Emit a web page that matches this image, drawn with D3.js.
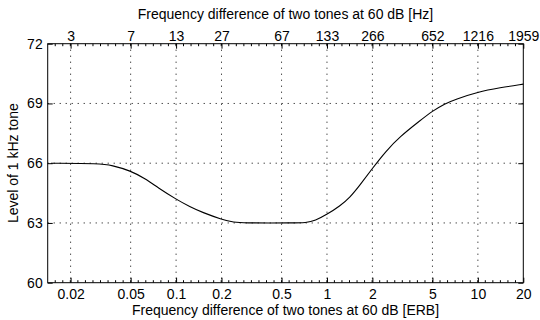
<!DOCTYPE html>
<html>
<head>
<meta charset="utf-8">
<script src="https://cdn.jsdelivr.net/npm/d3@7"></script>
<style>
html,body{margin:0;padding:0;background:#fff;}
svg{display:block;}
text{font-family:"Liberation Sans",Arial,Helvetica,sans-serif;fill:#000;}
</style>
</head>
<body>
<script>
// ---- data ----
const erbTicks = [0.02, 0.05, 0.1, 0.2, 0.5, 1, 2, 5, 10, 20];
const erbLabels = ["0.02", "0.05", "0.1", "0.2", "0.5", "1", "2", "5", "10", "20"];
const hzLabels = ["3", "7", "13", "27", "67", "133", "266", "652", "1216", "1959"];
const levelTicks = [60, 63, 66, 69, 72];
const erbValues = [0.0148, 0.0313, 0.0374, 0.05, 0.0622, 0.0762, 0.1, 0.1236, 0.1492, 0.2, 0.2393, 0.2937, 0.419, 0.5685, 0.7335, 0.8327, 1.0, 1.219, 1.42, 1.654, 2.0, 2.46, 3.04, 4.13, 5.0, 6.05, 7.05, 10, 14.0, 20];
const levelValues = [66.0, 65.98, 65.9, 65.62, 65.23, 64.76, 64.19, 63.81, 63.53, 63.18, 63.03, 63.0, 63.0, 63.0, 63.01, 63.11, 63.43, 63.85, 64.28, 64.9, 65.74, 66.61, 67.33, 68.13, 68.62, 68.99, 69.2, 69.58, 69.79, 69.97];
const xDomain = [0.0141, 20];
const yDomain = [60, 72];
const xTitleTop = "Frequency difference of two tones at 60 dB [Hz]";
const xTitleBottom = "Frequency difference of two tones at 60 dB [ERB]";
const yTitle = "Level of 1 kHz tone";

// ---- layout ----
const W = 540, H = 320;
const L = 47.7, R = 523.3, T = 43.7, B = 282.7;

const svg = d3.select("body").append("svg").attr("width", W).attr("height", H);

const x = d3.scaleLog().domain(xDomain).range([L, R]);
const y = d3.scaleLinear().domain(yDomain).range([B, T]);

// grid
const grid = svg.append("g").attr("stroke", "#000").attr("stroke-width", 1)
  .attr("stroke-dasharray", "1,5").attr("fill", "none");
grid.selectAll("line.v").data(erbTicks.filter(d => d < xDomain[1])).join("line")
  .attr("class", "v")
  .attr("x1", d => x(d)).attr("x2", d => x(d)).attr("y1", T).attr("y2", B);
grid.selectAll("line.h").data(levelTicks.filter(d => d > yDomain[0] && d < yDomain[1])).join("line")
  .attr("class", "h")
  .attr("x1", L).attr("x2", R).attr("y1", d => y(d)).attr("y2", d => y(d));

// minor ticks (every 0.05 decade)
const lo = Math.log10(xDomain[0]), hi = Math.log10(xDomain[1]);
const minor = [];
for (let v = lo + 0.05; v < hi - 0.01; v += 0.05) minor.push(Math.pow(10, v));
const mg = svg.append("g").attr("stroke", "#000").attr("stroke-width", 1);
mg.selectAll("line.mb").data(minor).join("line").attr("class", "mb")
  .attr("x1", d => x(d)).attr("x2", d => x(d)).attr("y1", B).attr("y2", B - 2.5);
mg.selectAll("line.mt").data(minor).join("line").attr("class", "mt")
  .attr("x1", d => x(d)).attr("x2", d => x(d)).attr("y1", T).attr("y2", T + 2.5);

// axes
const fontSize = "14px";
const ax = [
  svg.append("g").attr("transform", `translate(0,${B})`)
    .call(d3.axisBottom(x).tickValues(erbTicks).tickFormat((d, i) => erbLabels[i]).tickSizeInner(-5).tickSizeOuter(0).tickPadding(6)),
  svg.append("g").attr("transform", `translate(0,${T})`)
    .call(d3.axisTop(x).tickValues(erbTicks).tickFormat((d, i) => hzLabels[i]).tickSizeInner(-5).tickSizeOuter(0).tickPadding(3)),
  svg.append("g").attr("transform", `translate(${L},0)`)
    .call(d3.axisLeft(y).tickValues(levelTicks).tickFormat(d3.format("d")).tickSizeInner(-5).tickSizeOuter(0).tickPadding(5)),
  svg.append("g").attr("transform", `translate(${R},0)`)
    .call(d3.axisRight(y).tickValues(levelTicks).tickFormat("").tickSizeInner(-5).tickSizeOuter(0))
];
ax.forEach(g => {
  g.select(".domain").remove();
  g.selectAll("line").attr("stroke", "#000");
  g.selectAll("text").attr("font-size", fontSize).attr("font-family", null).attr("fill", "#000");
});

// frame
svg.append("rect").attr("x", L).attr("y", T).attr("width", R - L).attr("height", B - T)
  .attr("fill", "none").attr("stroke", "#000").attr("stroke-width", 1);

// curve
const line = d3.line().x((d, i) => x(erbValues[i])).y(d => y(d)).curve(d3.curveBasis);
svg.append("path").datum(levelValues).attr("d", line)
  .attr("fill", "none").attr("stroke", "#000").attr("stroke-width", 1.1);

// titles
svg.append("text").attr("x", (L + R) / 2).attr("y", 18.5).attr("text-anchor", "middle")
  .attr("font-size", fontSize).text(xTitleTop);
svg.append("text").attr("x", (L + R) / 2).attr("y", 315).attr("text-anchor", "middle")
  .attr("font-size", fontSize).text(xTitleBottom);
svg.append("text").attr("transform", `translate(17.5,${(T + B) / 2}) rotate(-90)`)
  .attr("text-anchor", "middle").attr("font-size", fontSize).text(yTitle);
</script>
</body>
</html>
